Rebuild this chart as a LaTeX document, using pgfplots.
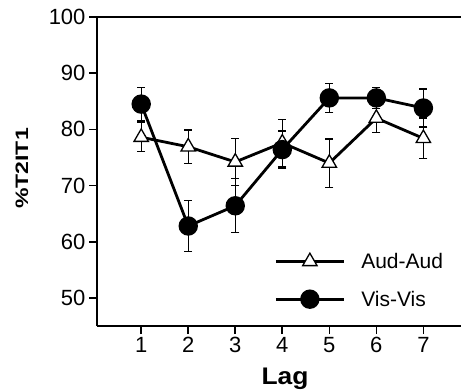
\documentclass[border=0pt]{standalone}
\usepackage{fontspec}
\setmainfont{Liberation Sans}
\usepackage{graphicx}
\usepackage{pgfplots}
\pgfplotsset{compat=1.18}
\usetikzlibrary{calc}
\begin{document}
\begin{tikzpicture}[x=1pt,y=1pt]
\begin{axis}[
  scale only axis,
  width=364pt, height=309pt,
  xmin=0.06, xmax=7.8, ymin=45, ymax=100,
  axis x line*=bottom, axis y line*=left,
  axis line style={line width=1.6pt, -},
  xtick={1,...,7}, ytick={50,60,...,100},
  tick align=outside, major tick length=8pt,
  tick style={line width=1.6pt, black},
  /pgf/number format/assume math mode=true,
  every tick label/.append style={font=\fontsize{22}{24}\selectfont},
  xlabel={\scalebox{1.1}[1]{\textbf{Lag}}}, ylabel={\scalebox{1.28}[1]{\textbf{\%T2IT1}}},
  every axis x label/.style={at={(axis description cs:0.5,0)}, anchor=base, yshift=-58pt, xshift=6pt, font=\fontsize{24}{24}\selectfont},
  every axis y label/.style={at={(axis description cs:0,0.5)}, anchor=center, rotate=90, yshift=75pt, xshift=3pt, font=\fontsize{18}{18}\selectfont},
  legend style={draw=none, fill=none, at={(0.487,0.243)}, anchor=north west,
    font=\fontsize{21}{25}\selectfont, row sep=17pt, column sep=14pt, inner sep=0pt},
  legend cell align=left,
  legend image code/.code={\draw[#1, mark repeat=2, mark phase=2] plot coordinates {(0pt,0pt) (34pt,0pt) (68pt,0pt)};},
  clip=false,
]
\draw[line width=1.6pt] (rel axis cs:0,1) -- (rel axis cs:1,1);
\addplot[black, line width=2.8pt, mark=triangle*, mark size=8.3pt,
  mark options={fill=white, line width=1.3pt},
  error bars/.cd, y dir=both, y explicit,
  error bar style={line width=1.3pt}, error mark options={rotate=90, mark size=4pt, line width=1.3pt}]
coordinates {
(1,78.6) +- (0,2.6)
(2,76.9) +- (0,3.0)
(3,74.2) +- (0,4.2)
(4,77.6) +- (0,4.2)
(5,74.0) +- (0,4.3)
(6,82.0) +- (0,2.6)
(7,78.4) +- (0,3.6)
};
\addlegendentry{Aud-Aud}
\addplot[black, line width=2.8pt, mark=*, mark size=8.3pt,
  error bars/.cd, y dir=both, y explicit,
  error bar style={line width=1.3pt}, error mark options={rotate=90, mark size=4pt, line width=1.3pt}]
coordinates {
(1,84.5) +- (0,3.0)
(2,62.8) +- (0,4.6)
(3,66.4) +- (0,4.8)
(4,76.4) +- (0,3.3)
(5,85.6) +- (0,2.6)
(6,85.6) +- (0,1.9)
(7,83.8) +- (0,3.4)
};
\addlegendentry{Vis-Vis}
\end{axis}
\pgfresetboundingbox
\path ($(current axis.south west)+(-97pt,-65pt)$) rectangle ($(current axis.north east)+(0pt,17pt)$);
\end{tikzpicture}
\end{document}
